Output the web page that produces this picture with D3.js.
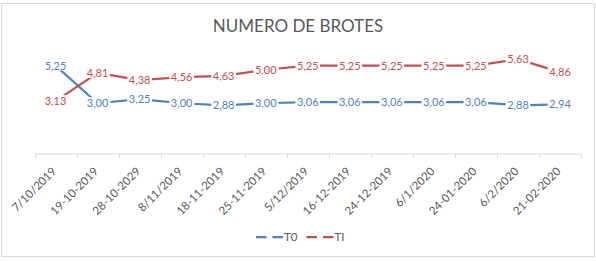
<!DOCTYPE html>
<html>
<head>
<meta charset="utf-8">
<script src="https://cdn.jsdelivr.net/npm/d3@7"></script>
<style>
  body { margin: 0; background: #fff; }
  text { font-family: Lato, 'Liberation Sans', sans-serif; }
</style>
</head>
<body>
<div id="chart"></div>
<script>
const categories = ['7/10/2019', '19-10-2019', '28-10-2029', '8/11/2019', '18-11-2019',
  '25-11-2019', '5/12/2019', '16-12-2019', '24-12-2019', '6/1/2020', '24-01-2020',
  '6/2/2020', '21-02-2020'];
const t0Values = [5.25, 3.00, 3.25, 3.00, 2.88, 3.00, 3.06, 3.06, 3.06, 3.06, 3.06, 2.88, 2.94];
const tiValues = [3.13, 4.81, 4.38, 4.56, 4.63, 5.00, 5.25, 5.25, 5.25, 5.25, 5.25, 5.63, 4.86];
const seriesNames = ['T0', 'TI'];

//Chart dimensions
const width = 596;
const height = 261;
const margin = { top: 53, bot: 107.5, left: 34.5, right: 15 };

const colors = ['#4f81bd', '#c0504d'];
const series = [t0Values, tiValues];

//Scale
const xScale = d3.scaleBand()
  .domain(categories)
  .range([margin.left, width - margin.right]);

const yScale = d3.scaleLinear()
  .domain([0, 6])
  .range([height - margin.bot, margin.top]);

const svg = d3.select('#chart').append('svg')
  .attr('width', width)
  .attr('height', height);

//Frame
svg.append('rect')
  .attr('x', 1.5)
  .attr('y', 3.5)
  .attr('width', 593)
  .attr('height', 253)
  .attr('fill', '#fff')
  .attr('stroke', '#d9d9d9');

//Title
svg.append('text')
  .attr('x', 298)
  .attr('y', 31.5)
  .attr('text-anchor', 'middle')
  .attr('fill', '#595959')
  .style('font-size', '17px')
  .text('NUMERO DE BROTES');

//X axis
const xAxis = d3.axisBottom(xScale)
  .tickSize(4)
  .tickFormat('');

const xAxisGroup = svg.append('g')
  .attr('transform', `translate(0, ${yScale(0)})`)
  .call(xAxis);

xAxisGroup.select('.domain').attr('stroke', '#d9d9d9').attr('d',
  `M${margin.left},0.5H${width - margin.right}`);

// ticks at band edges, like excel
xAxisGroup.selectAll('.tick').remove();
xAxisGroup.selectAll('.edge')
  .data(d3.range(categories.length + 1))
  .enter().append('line')
  .attr('class', 'edge')
  .attr('x1', i => Math.round(margin.left + i * xScale.step()) + 0.5)
  .attr('x2', i => Math.round(margin.left + i * xScale.step()) + 0.5)
  .attr('y1', 0.5)
  .attr('y2', 4.5)
  .attr('stroke', '#d9d9d9');

svg.append('g')
  .selectAll('text')
  .data(categories)
  .enter().append('text')
  .attr('transform', d => `translate(${xScale(d) + xScale.bandwidth() / 2 + 1.5}, ${yScale(0) + 18.5}) rotate(-45)`)
  .attr('text-anchor', 'end')
  .attr('fill', '#595959')
  .style('font-size', '11.5px')
  .text(d => d);

//Lines
const line = d3.line()
  .x((d, i) => xScale(categories[i]) + xScale.bandwidth() / 2)
  .y(d => yScale(d));

series.forEach((values, s) => {
  svg.append('path')
    .attr('d', line(values))
    .attr('fill', 'none')
    .attr('stroke', colors[s])
    .attr('stroke-width', 2.25)
    .attr('stroke-linejoin', 'round');
});

//Data labels, centered on points with white background
const fmt = v => d3.format('.2f')(v).replace('.', ',');

series.forEach((values, s) => {
  const labels = svg.append('g')
    .selectAll('g')
    .data(values)
    .enter().append('g')
    .attr('transform', (d, i) => `translate(${xScale(categories[i]) + xScale.bandwidth() / 2}, ${yScale(d)})`);

  const bg = labels.append('rect').attr('fill', '#fff');

  const txt = labels.append('text')
    .attr('text-anchor', 'middle')
    .attr('dy', '0.36em')
    .attr('fill', colors[s])
    .style('font-size', '11px')
    .text(d => fmt(d));

  txt.each(function() {
    const b = this.getBBox();
    d3.select(this.previousSibling)
      .attr('x', b.x - 1.5)
      .attr('y', b.y + 1)
      .attr('width', b.width + 3)
      .attr('height', b.height - 2);
  });
});

//Legend
const legend = svg.append('g')
  .attr('transform', 'translate(256, 237)');

seriesNames.forEach((name, s) => {
  const item = legend.append('g')
    .attr('transform', `translate(${s * 50.5}, 0)`);
  item.append('line')
    .attr('x1', 0)
    .attr('x2', 27)
    .attr('stroke', colors[s])
    .attr('stroke-width', 2.25)
    .attr('stroke-dasharray', '10.5,6');
  item.append('text')
    .attr('x', 28)
    .attr('dy', '0.36em')
    .attr('fill', '#595959')
    .style('font-size', '11.5px')
    .text(name);
});
</script>
</body>
</html>
